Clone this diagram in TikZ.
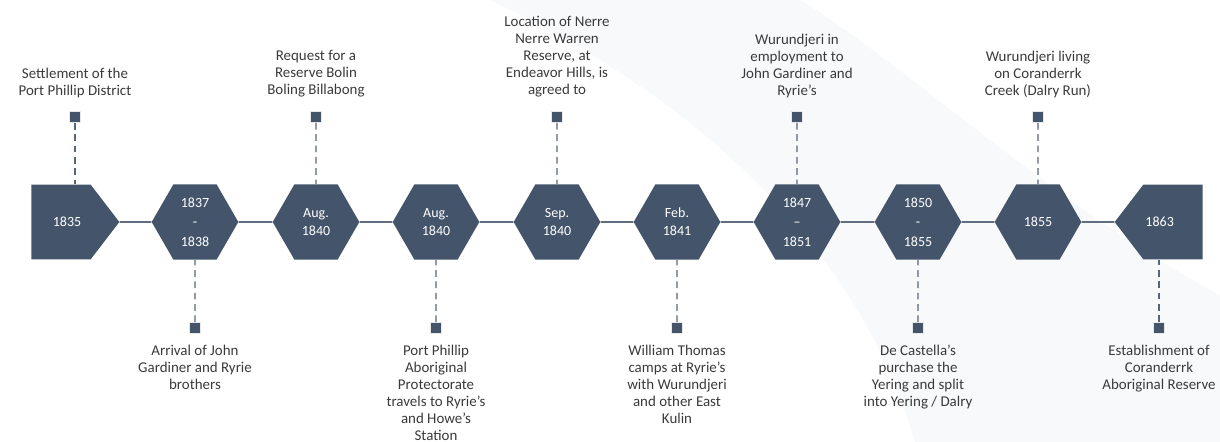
\documentclass[tikz,border=0pt]{standalone}
\usepackage{fontspec}
\setmainfont{Carlito}
\usetikzlibrary{positioning, shapes.geometric, shapes.symbols}

\definecolor{slate}{HTML}{44546A}
\definecolor{labeltext}{HTML}{3A3A3A}
\definecolor{swoosh}{HTML}{F8F9FA}

\tikzset{
  yearfont/.style={text=white, align=center, font=\fontsize{10.5}{13.5}\selectfont},
  year/.style={regular polygon, regular polygon sides=6, minimum size=65pt, inner sep=0pt, fill=slate, yearfont},
  startyear/.style={signal, signal to=east, signal pointer angle=105, minimum width=66pt, minimum height=56pt, inner sep=0pt, fill=slate, yearfont},
  endyear/.style={signal, signal to=west, signal pointer angle=105, minimum width=66pt, minimum height=56pt, inner sep=0pt, fill=slate, yearfont},
  marker/.style={rectangle, minimum size=8pt, inner sep=0pt, fill=slate, draw=gray!18, line width=0.8pt},
  event/.style={align=center, text=labeltext, inner sep=0pt, font=\fontsize{11.2}{12.75}\selectfont},
  stem/.style={draw=slate!90, line width=1pt, dash pattern=on 5pt off 3.5pt},
  link/.style={draw=slate!85, line width=1.3pt},
}

\begin{document}
\begin{tikzpicture}[x=0.75pt, y=-0.75pt]
\clip (0,0) rectangle (1220,442);
% faint background sweep
\fill[swoosh] (490,0) .. controls (700,100) and (860,250) .. (915,442) -- (1220,442) -- (1220,295) .. controls (1060,210) and (900,60) .. (800,0) -- cycle;

% years
\node[startyear] (y1835) at (61,222) {\hspace*{9pt}1835};
\node[year] (y1837) at (195,222) {1837\\[1pt]-\\[1pt]1838};
\node[year] (y1840a) at (316,222) {Aug.\\1840};
\node[year] (y1840b) at (436,222) {Aug.\\1840};
\node[year] (y1840c) at (557,222) {Sep.\\1840};
\node[year] (y1841) at (677,222) {Feb.\\1841};
\node[year] (y1847) at (797,222) {1847\\[1pt]--\\[1pt]1851};
\node[year] (y1850) at (918,222) {1850\\[1pt]-\\[1pt]1855};
\node[year] (y1855) at (1038,222) {1855};
\node[endyear] (y1863) at (1173,222) {1863\hspace*{20pt}};

\draw[link] (y1835) -- (y1837);
\draw[link] (y1837) -- (y1840a);
\draw[link] (y1840a) -- (y1840b);
\draw[link] (y1840b) -- (y1840c);
\draw[link] (y1840c) -- (y1841);
\draw[link] (y1841) -- (y1847);
\draw[link] (y1847) -- (y1850);
\draw[link] (y1850) -- (y1855);
\draw[link] (y1855) -- (y1863);

% events above the line
\node[marker] (m1835) at (75,117) {};
\node[marker] (m1840a) at (316,117) {};
\node[marker] (m1840c) at (557,117) {};
\node[marker] (m1847) at (797,117) {};
\node[marker] (m1855) at (1038,117) {};

\node[event, above=10pt of m1835] (e1835) {Settlement of the\\Port Phillip District};
\node[event, above=10pt of m1840a] (e1840a) {Request for a\\Reserve Bolin\\Boling Billabong};
\node[event, above=10pt of m1840c] (e1840c) {Location of Nerre\\Nerre Warren\\Reserve, at\\Endeavor Hills, is\\agreed to};
\node[event, above=10pt of m1847] (e1847) {Wurundjeri in\\employment to\\John Gardiner and\\Ryrie’s};
\node[event, above=10pt of m1855] (e1855) {Wurundjeri living\\on Coranderrk\\Creek (Dalry Run)};

\draw[stem] (m1835) -- (m1835 |- y1835.north);
\draw[stem] (m1840a) -- (y1840a);
\draw[stem] (m1840c) -- (y1840c);
\draw[stem] (m1847) -- (y1847);
\draw[stem] (m1855) -- (y1855);

% events below the line
\node[marker] (m1837) at (195,328) {};
\node[marker] (m1840b) at (436,328) {};
\node[marker] (m1841) at (677,328) {};
\node[marker] (m1850) at (918,328) {};
\node[marker] (m1863) at (1159,328) {};

\node[event, below=8pt of m1837] (e1837) {Arrival of John\\Gardiner and Ryrie\\brothers};
\node[event, below=8pt of m1840b] (e1840b) {Port Phillip\\Aboriginal\\Protectorate\\travels to Ryrie’s\\and Howe’s\\Station};
\node[event, below=8pt of m1841] (e1841) {William Thomas\\camps at Ryrie’s\\with Wurundjeri\\and other East\\Kulin};
\node[event, below=8pt of m1850] (e1850) {De Castella’s\\purchase the\\Yering and split\\into Yering / Dalry};
\node[event, below=8pt of m1863] (e1863) {Establishment of\\Coranderrk\\Aboriginal Reserve};

\draw[stem] (m1837) -- (y1837);
\draw[stem] (m1840b) -- (y1840b);
\draw[stem] (m1841) -- (y1841);
\draw[stem] (m1850) -- (y1850);
\draw[stem] (m1863) -- (m1863 |- y1863.south);
\end{tikzpicture}
\end{document}
